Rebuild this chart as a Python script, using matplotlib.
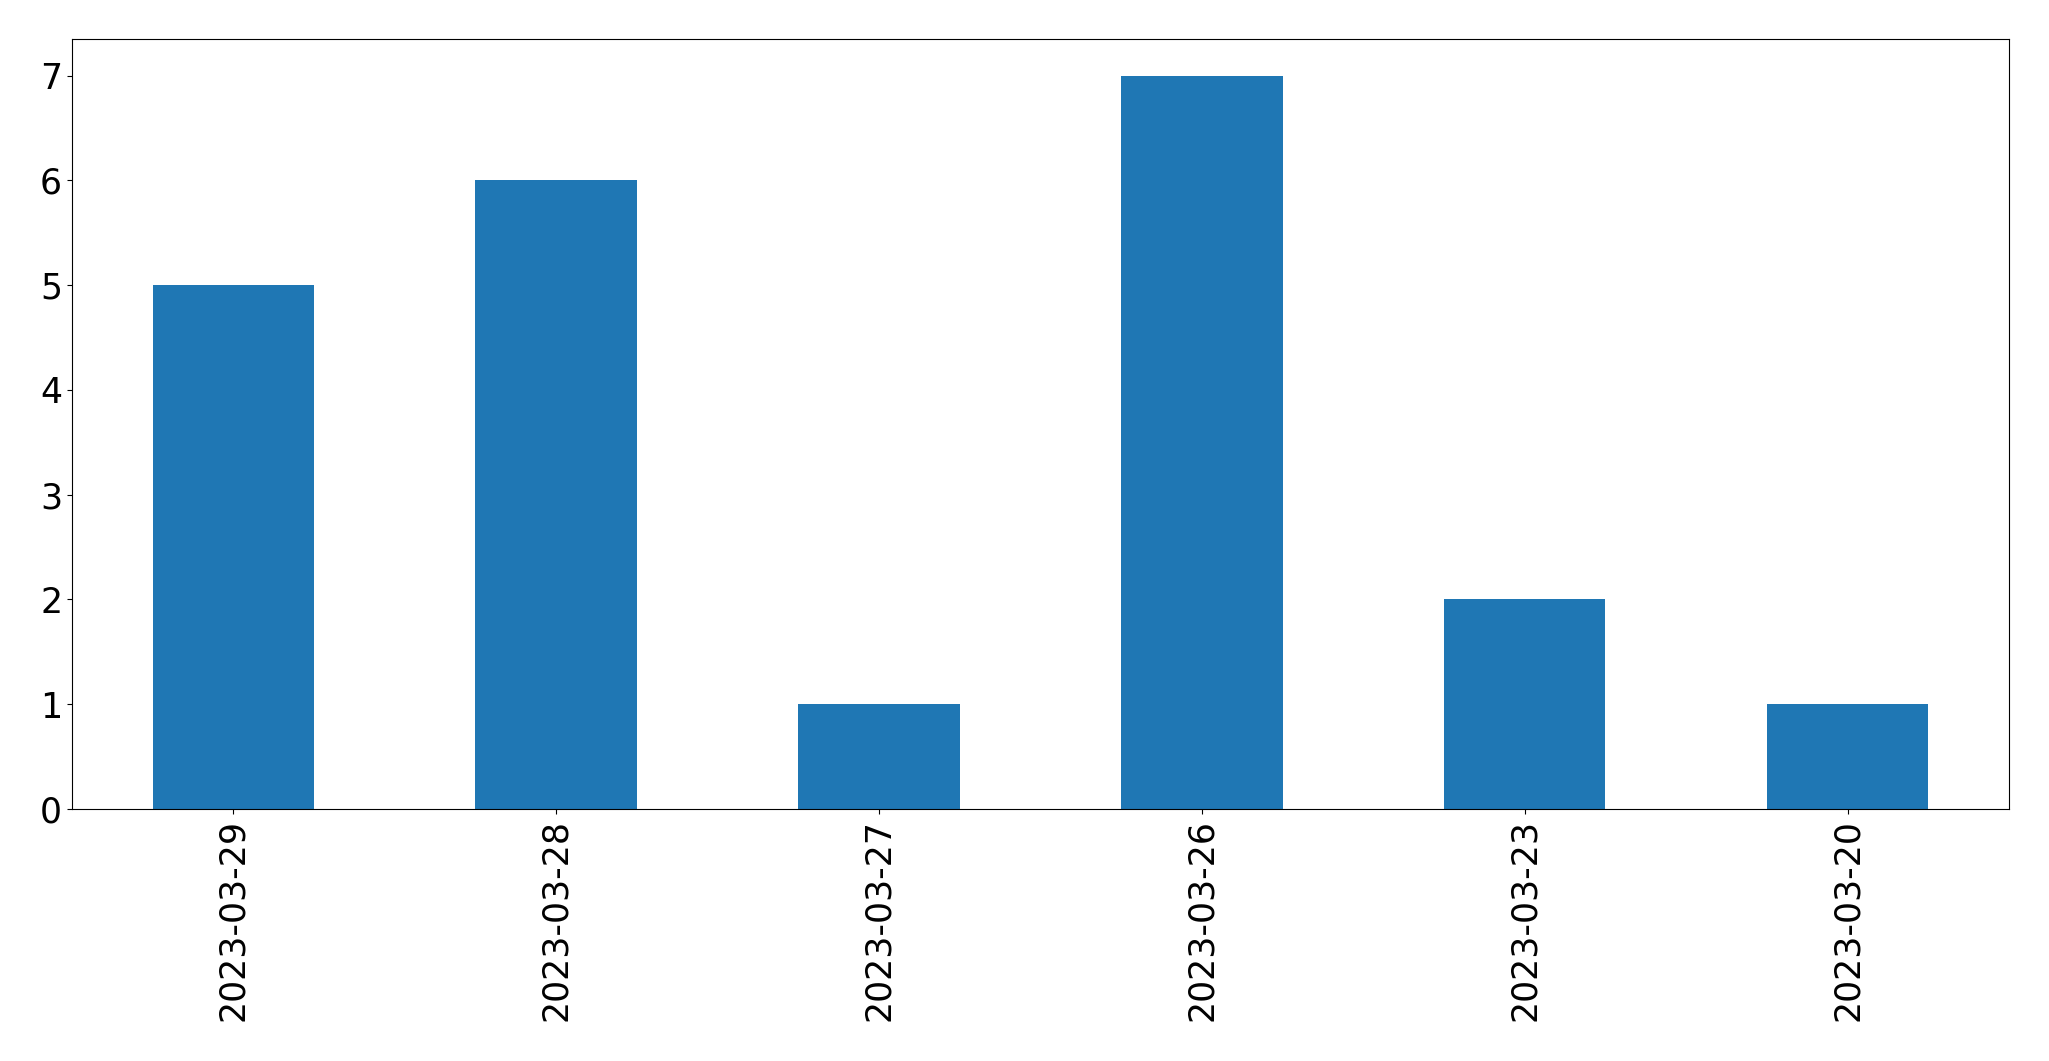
import matplotlib
matplotlib.use('Agg')
import matplotlib.pyplot as plt
import pandas as pd

# daily counts, newest first (as in the original ordering)
dates = ['2023-03-29', '2023-03-28', '2023-03-27', '2023-03-26', '2023-03-23', '2023-03-20']
counts = [5, 6, 1, 7, 2, 1]

s = pd.Series(counts, index=dates)

fig, ax = plt.subplots(figsize=(20.49, 10.61), dpi=100)
s.plot(kind='bar', ax=ax, color='#1f77b4', fontsize=25)
ax.tick_params(axis='both', labelsize=25)

fig.subplots_adjust(left=0.0351, right=0.9805, top=0.9632, bottom=0.2375)
fig.savefig('out.png', dpi=100)
